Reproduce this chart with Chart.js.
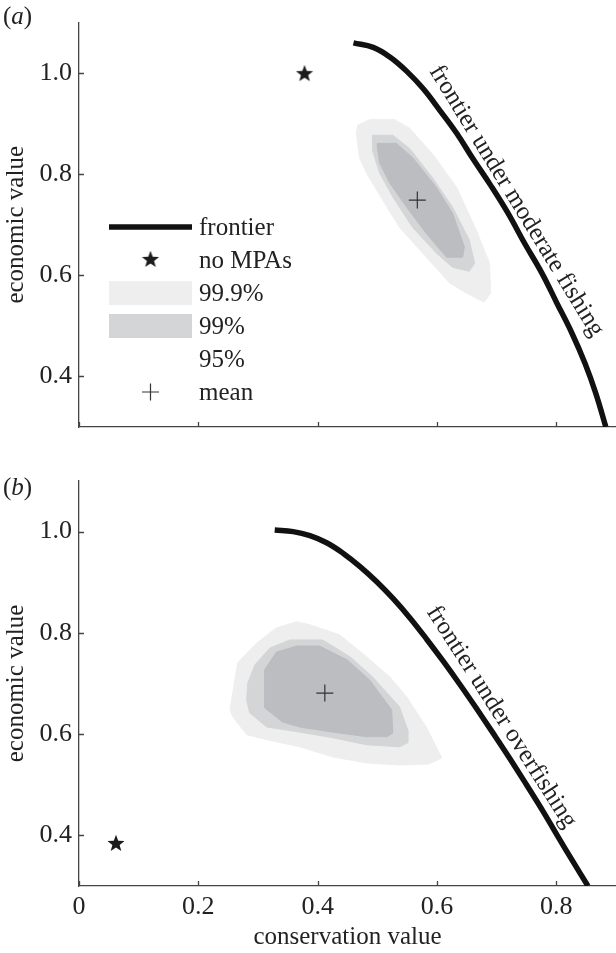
<!DOCTYPE html>
<html>
<head>
<meta charset="utf-8">
<script src="https://cdn.jsdelivr.net/npm/chart.js@4/dist/chart.umd.min.js"></script>
<style>
  body { margin: 0; background: #fff; width: 616px; height: 953px; overflow: hidden; position: relative; font-family: 'Liberation Serif', 'Times New Roman', serif; }
  canvas { position: absolute; left: 0; }
  #chartA { top: 0; }
  #chartB { top: 450px; }
  .tag { position: absolute; left: 3px; font-size: 25px; line-height: 1; color: #222; }
</style>
</head>
<body>
<canvas id="chartA" width="616" height="450"></canvas>
<canvas id="chartB" width="616" height="503"></canvas>
<div class="tag" style="top:3px">(<i>a</i>)</div>
<div class="tag" style="top:474px">(<i>b</i>)</div>
<script>
// axis ticks
const xTicks = [0, 0.2, 0.4, 0.6, 0.8]
const yTicks = [0.4, 0.6, 0.8, 1.0]

// panel (a): moderate fishing
const frontierA = [[0.460, 1.060], [0.493, 1.051], [0.521, 1.032], [0.549, 1.004], [0.577, 0.969], [0.605, 0.926],
  [0.633, 0.881], [0.660, 0.831], [0.690, 0.778], [0.719, 0.723], [0.747, 0.663], [0.776, 0.604], [0.801, 0.545],
  [0.826, 0.486], [0.848, 0.426], [0.866, 0.367], [0.883, 0.300]]
const noMpaA = [[0.378, 1.0]]
const meanA = [[0.567, 0.749]]
const c999A = [[0.467, 0.897], [0.487, 0.908], [0.529, 0.908], [0.554, 0.891], [0.592, 0.841], [0.633, 0.774],
  [0.666, 0.689], [0.688, 0.624], [0.690, 0.565], [0.679, 0.547], [0.649, 0.565], [0.621, 0.585], [0.582, 0.636],
  [0.537, 0.695], [0.509, 0.749], [0.482, 0.802], [0.470, 0.833], [0.465, 0.881], [0.467, 0.897]]
const c99A = [[0.492, 0.877], [0.526, 0.877], [0.554, 0.851], [0.592, 0.794], [0.626, 0.735], [0.654, 0.670],
  [0.663, 0.624], [0.654, 0.608], [0.626, 0.616], [0.599, 0.644], [0.559, 0.695], [0.526, 0.755], [0.504, 0.802],
  [0.492, 0.847], [0.492, 0.877]]
const c95A = [[0.500, 0.861], [0.532, 0.861], [0.559, 0.833], [0.599, 0.774], [0.626, 0.723], [0.646, 0.656],
  [0.643, 0.636], [0.616, 0.636], [0.582, 0.683], [0.549, 0.735], [0.521, 0.782], [0.504, 0.822], [0.500, 0.853],
  [0.500, 0.861]]

// panel (b): overfishing
const frontierB = [[0.328, 1.003], [0.359, 1.000], [0.387, 0.992], [0.415, 0.978], [0.443, 0.957], [0.471, 0.931],
  [0.499, 0.901], [0.527, 0.867], [0.555, 0.829], [0.583, 0.787], [0.611, 0.743], [0.639, 0.697], [0.666, 0.651],
  [0.694, 0.602], [0.722, 0.552], [0.750, 0.500], [0.778, 0.447], [0.803, 0.397], [0.828, 0.348], [0.853, 0.300]]
const noMpaB = [[0.062, 0.385]]
const meanB = [[0.412, 0.681]]
const c999B = [[0.253, 0.648], [0.266, 0.741], [0.298, 0.780], [0.331, 0.810], [0.365, 0.822], [0.387, 0.816],
  [0.437, 0.796], [0.482, 0.753], [0.521, 0.713], [0.549, 0.674], [0.582, 0.614], [0.608, 0.553], [0.587, 0.541],
  [0.537, 0.539], [0.482, 0.543], [0.425, 0.555], [0.370, 0.575], [0.315, 0.589], [0.281, 0.599], [0.258, 0.634],
  [0.253, 0.648]]
const c99B = [[0.283, 0.701], [0.295, 0.737], [0.320, 0.770], [0.353, 0.786], [0.408, 0.786], [0.454, 0.753],
  [0.492, 0.713], [0.537, 0.654], [0.551, 0.608], [0.551, 0.583], [0.537, 0.575], [0.482, 0.579], [0.425, 0.593],
  [0.370, 0.604], [0.315, 0.614], [0.286, 0.642], [0.281, 0.668], [0.283, 0.701]]
const c95B = [[0.311, 0.727], [0.331, 0.762], [0.365, 0.774], [0.403, 0.774], [0.449, 0.747], [0.487, 0.707],
  [0.524, 0.648], [0.526, 0.602], [0.516, 0.595], [0.482, 0.595], [0.425, 0.604], [0.370, 0.614], [0.341, 0.624],
  [0.311, 0.652], [0.311, 0.727]]

const FONT = "'Liberation Serif', 'Times New Roman', serif"
const pts = arr => arr.map(p => ({ x: p[0], y: p[1] }))

// filled five-pointed star for the "no MPAs" marker
const star = document.createElement('canvas')
star.width = 20
star.height = 20
;(function () {
  const c = star.getContext('2d')
  c.beginPath()
  for (let i = 0; i < 10; i++) {
    const r = i % 2 === 0 ? 9 : 3.8
    const a = -Math.PI / 2 + i * Math.PI / 5
    c.lineTo(10 + r * Math.cos(a), 10.8 + r * Math.sin(a))
  }
  c.closePath()
  c.fillStyle = '#1c1c1c'
  c.fill()
})()

// ticks drawn inward, like the original figure
const innerTicks = {
  id: 'innerTicks',
  afterDatasetsDraw(chart) {
    const { ctx, chartArea, scales } = chart
    ctx.save()
    ctx.strokeStyle = '#444'
    ctx.lineWidth = 1.3
    ctx.beginPath()
    scales.x.ticks.forEach(t => {
      const px = Math.round(scales.x.getPixelForValue(t.value)) + 0.5
      ctx.moveTo(px, chartArea.bottom)
      ctx.lineTo(px, chartArea.bottom - 5)
    })
    scales.y.ticks.forEach(t => {
      const py = Math.round(scales.y.getPixelForValue(t.value)) + 0.5
      ctx.moveTo(chartArea.left, py)
      ctx.lineTo(chartArea.left + 5, py)
    })
    ctx.stroke()
    ctx.restore()
  }
}

const curveLabel = {
  id: 'curveLabel',
  afterDatasetsDraw(chart, args, opts) {
    const { ctx, scales } = chart
    ctx.save()
    ctx.translate(scales.x.getPixelForValue(opts.x), scales.y.getPixelForValue(opts.y))
    ctx.rotate(opts.angle * Math.PI / 180)
    ctx.font = '25px ' + FONT
    ctx.fillStyle = '#222'
    ctx.textAlign = 'center'
    ctx.textBaseline = 'middle'
    ctx.fillText(opts.text, 0, 0)
    ctx.restore()
  }
}

const keyBox = {
  id: 'keyBox',
  afterDatasetsDraw(chart, args, opts) {
    if (!opts.show) return
    const { ctx } = chart
    ctx.save()
    ctx.font = '25px ' + FONT
    ctx.textBaseline = 'middle'
    ctx.textAlign = 'left'
    chart.data.datasets.forEach((ds, i) => {
      const cy = opts.top + i * opts.rowH
      const x0 = opts.left
      const x1 = opts.left + opts.swatchW
      if (ds.fill) {
        if (!opts.blank.includes(ds.label)) {
          ctx.fillStyle = ds.backgroundColor
          ctx.fillRect(x0, cy - opts.swatchH / 2, opts.swatchW, opts.swatchH)
        }
      } else if (ds.showLine) {
        ctx.strokeStyle = ds.borderColor
        ctx.lineWidth = ds.borderWidth
        ctx.beginPath()
        ctx.moveTo(x0, cy)
        ctx.lineTo(x1, cy)
        ctx.stroke()
      } else if (ds.pointStyle === 'cross') {
        ctx.strokeStyle = ds.borderColor
        ctx.lineWidth = ds.borderWidth
        const mx = (x0 + x1) / 2
        ctx.beginPath()
        ctx.moveTo(mx - ds.pointRadius, cy)
        ctx.lineTo(mx + ds.pointRadius, cy)
        ctx.moveTo(mx, cy - ds.pointRadius)
        ctx.lineTo(mx, cy + ds.pointRadius)
        ctx.stroke()
      } else {
        ctx.drawImage(ds.pointStyle, (x0 + x1) / 2 - 10, cy - 11)
      }
      ctx.fillStyle = '#222'
      ctx.fillText(ds.label, opts.textX, cy + 1)
    })
    ctx.restore()
  }
}

function makeChart(id, d) {
  const datasets = [
    { label: 'frontier', data: pts(d.frontier), showLine: true, borderColor: '#111', borderWidth: 5.5,
      pointRadius: 0, tension: 0.4, order: 0 },
    { label: 'no MPAs', data: pts(d.noMpa), pointStyle: star, pointRadius: 9, order: 0 },
    { label: '99.9%', data: pts(d.c999), showLine: true, fill: 'shape', backgroundColor: '#eeeeee',
      borderColor: '#eeeeee', borderWidth: 1, pointRadius: 0, tension: 0, order: 3 },
    { label: '99%', data: pts(d.c99), showLine: true, fill: 'shape', backgroundColor: '#d4d5d7',
      borderColor: '#d4d5d7', borderWidth: 1, pointRadius: 0, tension: 0, order: 2 },
    { label: '95%', data: pts(d.c95), showLine: true, fill: 'shape', backgroundColor: '#bcbdc0',
      borderColor: '#bcbdc0', borderWidth: 1, pointRadius: 0, tension: 0, order: 1 },
    { label: 'mean', data: pts(d.mean), pointStyle: 'cross', pointRadius: 8.5, borderColor: '#333',
      borderWidth: 1.2, order: 0 }
  ]

  const tickFont = { family: FONT, size: 26 }
  const titleFont = { family: FONT, size: 25 }

  return new Chart(document.getElementById(id), {
    type: 'scatter',
    data: { datasets },
    plugins: [innerTicks, curveLabel, keyBox],
    options: {
      responsive: false,
      animation: false,
      layout: { autoPadding: false, padding: { top: d.padTop, right: 0, bottom: 0, left: 0 } },
      scales: {
        x: {
          type: 'linear',
          min: 0,
          max: 0.9,
          afterBuildTicks: s => { s.ticks = xTicks.map(v => ({ value: v })) },
          afterFit: s => { s.height = d.xHeight },
          grid: { display: false, drawTicks: false },
          border: { display: true, color: '#444', width: 1.3 },
          ticks: {
            display: d.xLabels,
            padding: 6,
            color: '#222',
            font: tickFont,
            maxRotation: 0,
            callback: v => (v === 0 ? '0' : v.toFixed(1))
          },
          title: {
            display: d.xLabels,
            text: 'conservation value',
            color: '#222',
            font: titleFont,
            padding: { top: 0, bottom: 1 }
          }
        },
        y: {
          type: 'linear',
          min: 0.3,
          max: 1.1,
          afterBuildTicks: s => { s.ticks = yTicks.map(v => ({ value: v })) },
          afterFit: s => { s.width = 79 },
          grid: { display: false, drawTicks: false },
          border: { display: true, color: '#444', width: 1.3 },
          ticks: { padding: 7, color: '#222', font: tickFont, callback: v => v.toFixed(1) },
          title: {
            display: true,
            text: 'economic value',
            color: '#222',
            font: titleFont,
            padding: { top: 1, bottom: 0 }
          }
        }
      },
      plugins: {
        legend: { display: false },
        tooltip: { enabled: false },
        curveLabel: d.label,
        keyBox: { show: d.key, left: 109, top: 227, rowH: 33, swatchW: 83, swatchH: 24, textX: 199, blank: ['95%'] }
      }
    }
  })
}

makeChart('chartA', {
  frontier: frontierA, noMpa: noMpaA, mean: meanA, c999: c999A, c99: c99A, c95: c95A,
  padTop: 22, xHeight: 23, xLabels: false, key: true,
  label: { text: 'frontier under moderate fishing', x: 0.733, y: 0.747, angle: 58.5 }
})

makeChart('chartB', {
  frontier: frontierB, noMpa: noMpaB, mean: meanB, c999: c999B, c99: c99B, c95: c95B,
  padTop: 31, xHeight: 67, xLabels: true, key: false,
  label: { text: 'frontier under overfishing', x: 0.708, y: 0.634, angle: 57.4 }
})
</script>
</body>
</html>
